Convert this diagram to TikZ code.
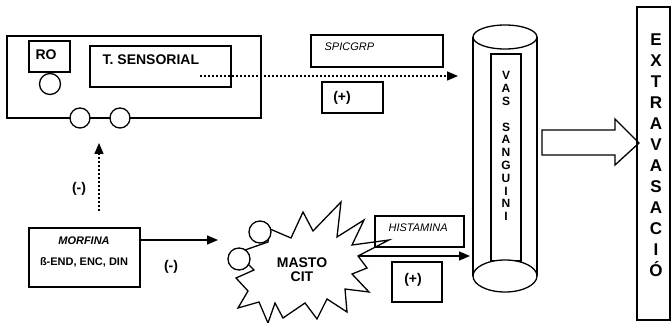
\documentclass[tikz,border=0pt]{standalone}
\usepackage{fontspec}
\setmainfont{Liberation Sans}
\usetikzlibrary{arrows.meta}
\begin{document}
\begin{tikzpicture}[x=1pt,y=-1pt,line width=1.3pt,
  box/.style={draw,inner sep=0pt,fill=white},
  circ/.style={draw,circle,fill=white,inner sep=0pt,minimum size=20pt},
  lbl/.style={inner sep=0pt,font=\fontsize{14}{14}\selectfont\bfseries},
  small/.style={inner sep=0pt,font=\fontsize{11}{11}\selectfont\bfseries},
  ital/.style={inner sep=0pt,font=\fontsize{11}{11}\selectfont\itshape},
  arr/.style={-{Triangle[length=11pt,width=9pt]}},
  dots/.style={dash pattern=on 2pt off 2pt,line width=1.5pt}]
\useasboundingbox (0,0) rectangle (672,323);

% sensory terminal
\node[box,minimum width=254pt,minimum height=82pt] (outer) at (134,77) {};
\node[box,minimum width=41pt,minimum height=31pt] (robox) at (49.5,56.5) {};
\node[lbl] (rotext) at (46,55) {RO};
\node[circ,minimum size=21pt] (rocirc) at (50,84) {};
\node[box,minimum width=141pt,minimum height=41pt] (tsbox) at (160.5,66.5) {};
\node[lbl,anchor=west] (tstext) at (102,60) {T. SENSORIAL};
\node[circ] (c1) at (80,118) {};
\node[circ] (c2) at (120,118) {};

% SPICGRP
\node[box,minimum width=132pt,minimum height=32pt] (spic) at (377,51) {};
\node[ital,anchor=west] (spictext) at (324,47) {SPICGRP};
\node[box,minimum width=61pt,minimum height=31pt] (plus1) at (352.5,97.5) {};
\node[lbl] (plus1t) at (342,98) {(+)};
\coordinate (tsout) at (200,76);
\coordinate (dotend) at (458,76);
\draw[dots,arr] (tsout) -- (dotend);

% morfina
\node[box,minimum width=111pt,minimum height=59pt] (morf) at (84.5,257.5) {};
\node[small,font=\fontsize{11}{11}\selectfont\bfseries\itshape] (morft) at (84,241) {MORFINA};
\node[small] (bend) at (84,262) {ß-END, ENC, DIN};
\coordinate (vstart) at (99,211);
\coordinate (vend) at (99,143);
\draw[dots,arr] (vstart) -- (vend);
\node[lbl] (minus1) at (79,189) {(-)};
\coordinate (mastoin) at (218,240);
\draw[arr] (morf.north east |- mastoin) -- (mastoin);
\node[lbl] (minus2) at (171,267) {(-)};

% mastocit
\node[box,minimum width=89pt,minimum height=31pt] (hist) at (419.5,231.5) {};
\node[ital,anchor=west] (histt) at (388,228) {HISTAMINA};
\draw (270,229) -- (291,238) -- (303,212) -- (313,231) -- (341,202) -- (337,237)
  -- (364,220) -- (352,245) -- (389,240) -- (358,256) -- (367,268) -- (352,274)
  -- (369,292) -- (345,289) -- (347,312) -- (327,299) -- (317,319) -- (305,303)
  -- (283,318) -- (275,303) -- (268,323) -- (259,302) -- (238,308) -- (248,291)
  -- (236,278) -- (254,270) -- (247,263) -- (245,250) -- (268,242) -- cycle;
\node[circ,minimum size=22pt] (m1) at (260,232) {};
\node[circ,minimum size=22pt] (m2) at (239,259) {};
\node[lbl,align=center,font=\fontsize{14}{14}\selectfont\bfseries] (masto) at (302,270) {MASTO\\CIT};
\coordinate (mastoout) at (358,256);
\coordinate (cylin) at (470,256);
\draw[arr] (mastoout) -- (cylin);
\node[box,minimum width=50pt,minimum height=40pt] (plus2) at (417,282) {};
\node[lbl] (plus2t) at (413,280) {(+)};

% vessel
\draw (473,37) -- (473,276);
\draw (537,37) -- (537,276);
\draw (505,37) ellipse [x radius=32, y radius=12];
\node[box,minimum width=30pt,minimum height=207pt] (inner) at (506,157.5) {};
\draw[fill=white] (505,276) ellipse [x radius=32, y radius=16];
\node[inner sep=0pt,anchor=north,align=center,font=\fontsize{12}{12.8}\selectfont\bfseries] (vas) at (506,71)
  {V\\A\\S\\\mbox{}\\S\\A\\N\\G\\U\\I\\N\\I};

% block arrow
\draw (542,130) -- (615,130) -- (615,119) -- (639,143) -- (615,165) -- (615,155) -- (542,155) -- cycle;

% extravasacio
\node[draw,inner sep=0pt,minimum width=33pt,minimum height=313pt] (extra) at (653.5,163.5) {};
\node[inner sep=0pt,anchor=north,align=center,font=\fontsize{17}{21}\selectfont\bfseries] (extrat) at (656,33)
  {E\\X\\T\\R\\A\\V\\A\\S\\A\\C\\I\\Ó};
\end{tikzpicture}
\end{document}
